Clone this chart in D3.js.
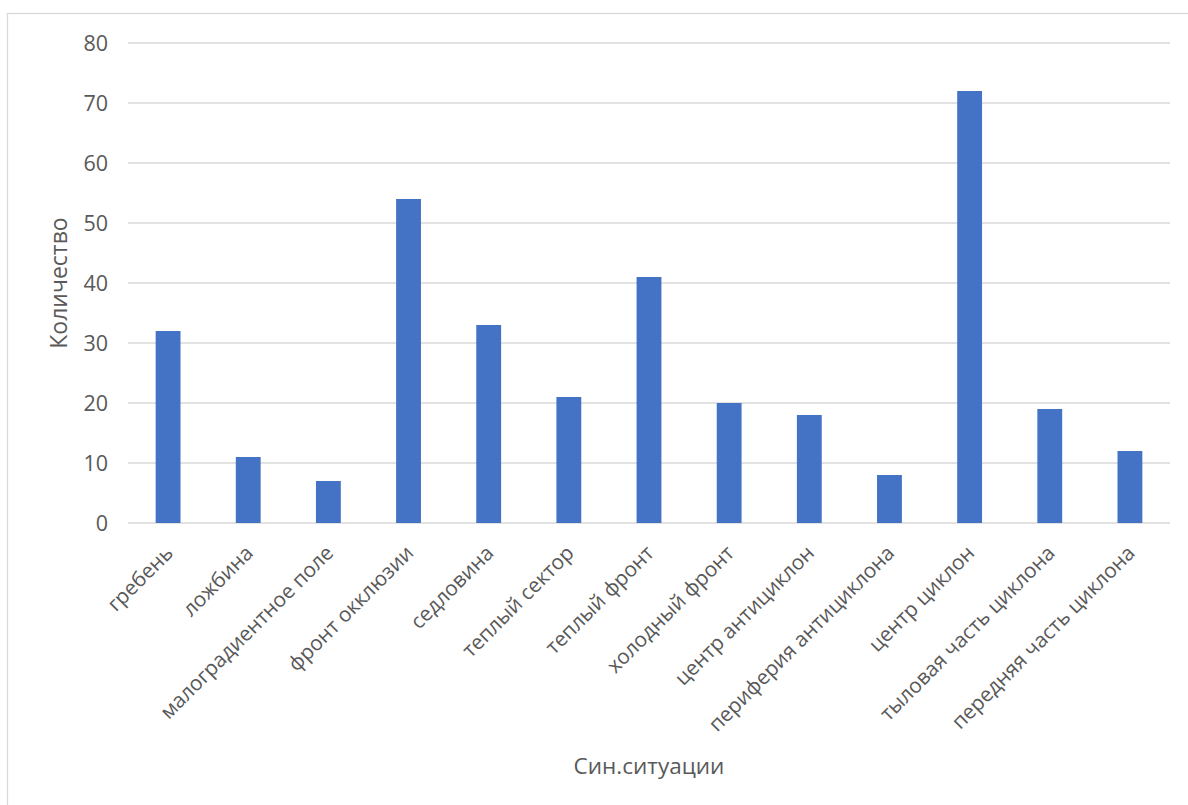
<!DOCTYPE html>
<html><head><meta charset="utf-8">
<script src="https://cdn.jsdelivr.net/npm/d3@7"></script>
<style>
html,body{margin:0;padding:0;background:#fff;}
svg{display:block;}
text{font-family:"Open Sans","Noto Sans",sans-serif;fill:#595959;}
</style></head>
<body>
<svg id="chart" width="1188" height="805"></svg>
<script>
const categories = ["гребень","ложбина","малоградиентное поле","фронт окклюзии","седловина","теплый сектор","теплый фронт","холодный фронт","центр антициклон","периферия антициклона","центр циклон","тыловая часть циклона","передняя часть циклона"];
const values = [32, 11, 7, 54, 33, 21, 41, 20, 18, 8, 72, 19, 12];
const yTicks = [0, 10, 20, 30, 40, 50, 60, 70, 80];
const xTitle = "Син.ситуации";
const yTitle = "Количество";

(function () {
const svg = d3.select("#chart");
const mLeft = 128, mRight = 1170, mTop = 43, mBottom = 523;

svg.append("rect").attr("x", 7.5).attr("y", 13.5).attr("width", 1200).attr("height", 820)
  .attr("fill", "#fff").attr("stroke", "#d9d9d9").attr("stroke-width", 1.3);

const x = d3.scaleBand().domain(categories).range([mLeft, mRight]).padding(0);
const y = d3.scaleLinear().domain([0, 80]).range([mBottom, mTop]);

svg.append("g").selectAll("line").data(yTicks).join("line")
  .attr("x1", mLeft).attr("x2", mRight)
  .attr("y1", d => y(d)).attr("y2", d => y(d))
  .attr("stroke", "#d9d9d9").attr("stroke-width", 1.3);

svg.append("g").selectAll("text").data(yTicks).join("text")
  .attr("x", mLeft - 20).attr("y", d => y(d)).attr("dy", "0.35em")
  .attr("text-anchor", "end").attr("font-size", 21.5).text(d => d);

const bw = x.bandwidth() * 0.31;
svg.append("g").selectAll("rect").data(values).join("rect")
  .attr("x", (d, i) => x(categories[i]) + x.bandwidth() / 2 - bw / 2)
  .attr("width", bw)
  .attr("y", d => y(d))
  .attr("height", d => y(0) - y(d))
  .attr("fill", "#4472C4");

svg.append("g").selectAll("text").data(categories).join("text")
  .attr("transform", d => `translate(${x(d) + x.bandwidth() / 2 - 4},${mBottom + 21}) rotate(-45)`)
  .attr("text-anchor", "end").attr("dy", "0.7em").attr("font-size", 20.7).text(d => d);

svg.append("text").attr("x", (mLeft + mRight) / 2).attr("y", 774)
  .attr("text-anchor", "middle").attr("font-size", 22.5).text(xTitle);
svg.append("text").attr("transform", `translate(67,${(mTop + mBottom) / 2}) rotate(-90)`)
  .attr("text-anchor", "middle").attr("font-size", 23).text(yTitle);
})();
</script>
</body></html>
